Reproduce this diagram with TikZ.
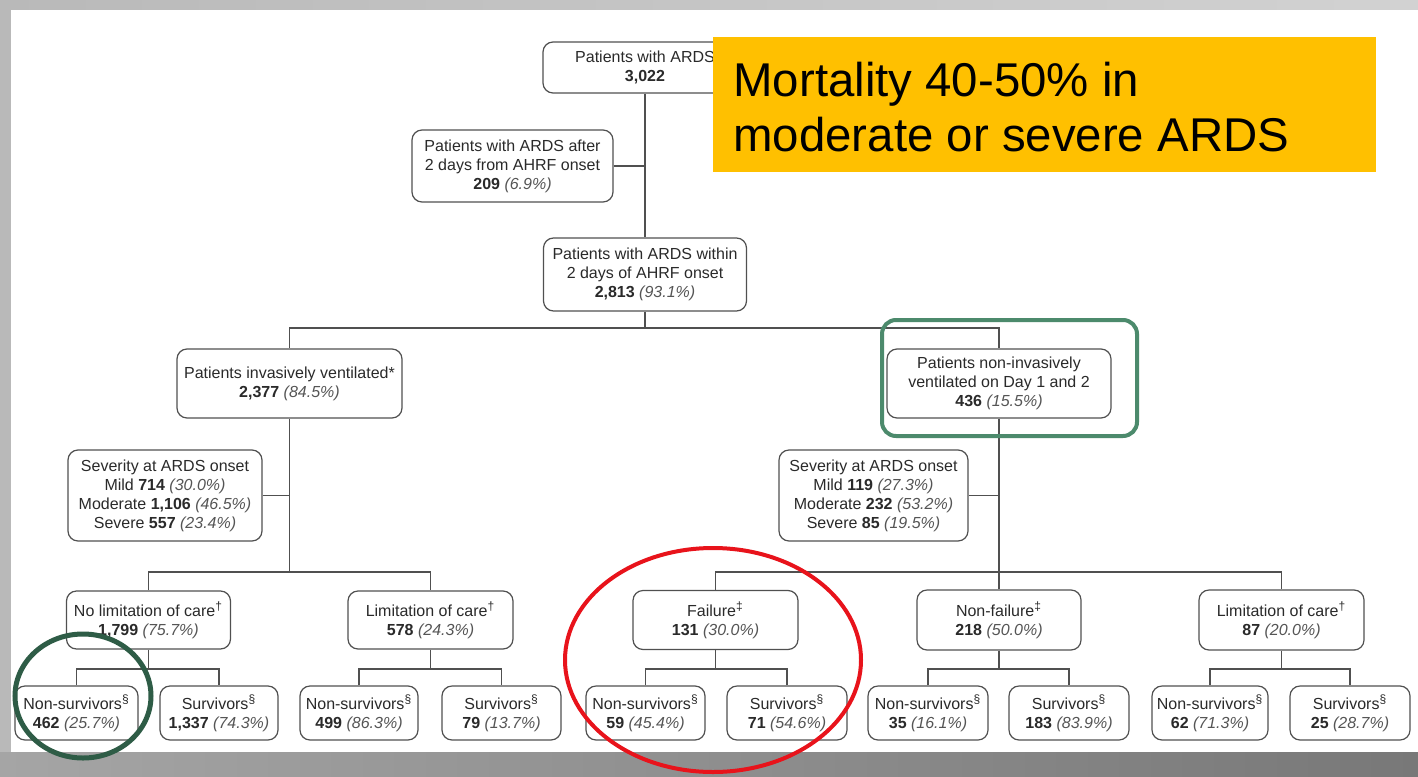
\documentclass[tikz,border=0pt]{standalone}
\usepackage{fontspec}
\setmainfont{Liberation Sans}
\definecolor{boxline}{HTML}{505050}
\definecolor{txt}{HTML}{2A2A2A}
\definecolor{pcg}{HTML}{555555}
\definecolor{hl}{HTML}{FFC000}
\definecolor{gframe}{HTML}{4C8A6C}
\definecolor{gcircle}{HTML}{2E5C46}
\definecolor{redc}{HTML}{E8131B}
\newcommand{\mypc}[1]{\textcolor{pcg}{\textit{(#1\%)}}}
\tikzset{
  box/.style={draw=boxline, line width=0.6pt, rounded corners=5pt, fill=white,
    align=center, inner sep=0pt, font=\fontsize{8}{9.5}\selectfont, text=txt},
  sz/.style 2 args={minimum width=#1*0.5pt, minimum height=#2*0.5pt},
  link/.style={draw=boxline, line width=0.6pt},
}
\begin{document}
\begin{tikzpicture}[x=0.5pt,y=-0.5pt]
\clip (0,0) rectangle (1418,776);
% background
\shade[left color={rgb,255:red,185;green,185;blue,185}, right color={rgb,255:red,210;green,210;blue,210}] (0,0) rectangle (1418,776);
\shade[left color={rgb,255:red,165;green,165;blue,165}, right color={rgb,255:red,120;green,120;blue,120}] (0,752) rectangle (1418,776);
\fill[white] (11,10) rectangle (1418,752);

% nodes
\node[box, sz={204}{51}] (top) at (645,67.5) {Patients with ARDS\\\textbf{3,022}};
\node[box, sz={201}{72}] (after) at (512.5,166) {Patients with ARDS after\\2 days from AHRF onset\\\textbf{209} \mypc{6.9}};
\node[box, sz={203}{73}] (within) at (645,274.5) {Patients with ARDS within\\2 days of AHRF onset\\\textbf{2,813} \mypc{93.1}};
\node[box, sz={225}{69}] (inv) at (289.5,383.5) {Patients invasively ventilated*\\\textbf{2,377} \mypc{84.5}};
\node[box, sz={224}{69}] (noninv) at (999,383.5) {Patients non-invasively\\ventilated on Day 1 and 2\\\textbf{436} \mypc{15.5}};
\node[box, sz={194}{91}] (sevL) at (165,495.5) {Severity at ARDS onset\\Mild \textbf{714} \mypc{30.0}\\Moderate \textbf{1,106} \mypc{46.5}\\Severe \textbf{557} \mypc{23.4}};
\node[box, sz={189}{91}] (sevR) at (873.5,495.5) {Severity at ARDS onset\\Mild \textbf{119} \mypc{27.3}\\Moderate \textbf{232} \mypc{53.2}\\Severe \textbf{85} \mypc{19.5}};
\node[box, sz={164}{58}] (nolim) at (148.5,620) {No limitation of care\textsuperscript{†}\\\textbf{1,799} \mypc{75.7}};
\node[box, sz={165}{58}] (limL) at (430.5,620) {Limitation of care\textsuperscript{†}\\\textbf{578} \mypc{24.3}};
\node[box, sz={165}{59}] (fail) at (715.5,620) {Failure\textsuperscript{‡}\\\textbf{131} \mypc{30.0}};
\node[box, sz={164}{60}] (nonfail) at (999,620) {Non-failure\textsuperscript{‡}\\\textbf{218} \mypc{50.0}};
\node[box, sz={165}{60}] (limR) at (1281.5,620) {Limitation of care\textsuperscript{†}\\\textbf{87} \mypc{20.0}};

\node[box, sz={123}{54}] (ns1) at (76.5,713) {Non-survivors\textsuperscript{§}\\\textbf{462} \mypc{25.7}};
\node[box, sz={118}{54}] (s1) at (219,713) {Survivors\textsuperscript{§}\\\textbf{1,337} \mypc{74.3}};
\node[box, sz={118}{54}] (ns2) at (359,713) {Non-survivors\textsuperscript{§}\\\textbf{499} \mypc{86.3}};
\node[box, sz={119}{54}] (s2) at (501.5,713) {Survivors\textsuperscript{§}\\\textbf{79} \mypc{13.7}};
\node[box, sz={119}{54}] (ns3) at (645.5,713) {Non-survivors\textsuperscript{§}\\\textbf{59} \mypc{45.4}};
\node[box, sz={120}{54}] (s3) at (787,713) {Survivors\textsuperscript{§}\\\textbf{71} \mypc{54.6}};
\node[box, sz={120}{54}] (ns4) at (928,713) {Non-survivors\textsuperscript{§}\\\textbf{35} \mypc{16.1}};
\node[box, sz={120}{54}] (s4) at (1069,713) {Survivors\textsuperscript{§}\\\textbf{183} \mypc{83.9}};
\node[box, sz={116}{54}] (ns5) at (1210,713) {Non-survivors\textsuperscript{§}\\\textbf{62} \mypc{71.3}};
\node[box, sz={120}{54}] (s5) at (1350,713) {Survivors\textsuperscript{§}\\\textbf{25} \mypc{28.7}};

% junctions
\coordinate (j0) at (645,328);
\coordinate (jL) at (289.5,572);
\coordinate (jR) at (999,572);
\coordinate (l1) at (148.5,669);
\coordinate (l2) at (430.5,669);
\coordinate (l3) at (715.5,669);
\coordinate (l4) at (999,669);
\coordinate (l5) at (1281.5,669);

% connectors
\draw[link] (top.south) -- (within.north);
\draw[link] (after.east) -- (after.east -| top.south);
\draw[link] (within.south) -- (j0);
\draw[link] (inv.north) |- (j0) -| (noninv.north);
\draw[link] (inv.south) -- (jL);
\draw[link] (sevL.east) -- (sevL.east -| inv.south);
\draw[link] (nolim.north) |- (jL) -| (limL.north);
\draw[link] (noninv.south) -- (jR);
\draw[link] (sevR.east) -- (sevR.east -| noninv.south);
\draw[link] (fail.north) |- (jR) -| (limR.north);
\draw[link] (nonfail.north) -- (jR);
\draw[link] (nolim.south) -- (l1);
\draw[link] (ns1.north) |- (l1) -| (s1.north);
\draw[link] (limL.south) -- (l2);
\draw[link] (ns2.north) |- (l2) -| (s2.north);
\draw[link] (fail.south) -- (l3);
\draw[link] (ns3.north) |- (l3) -| (s3.north);
\draw[link] (nonfail.south) -- (l4);
\draw[link] (ns4.north) |- (l4) -| (s4.north);
\draw[link] (limR.south) -- (l5);
\draw[link] (ns5.north) |- (l5) -| (s5.north);

% highlight box
\node[fill=hl, minimum width=331.5pt, minimum height=67.5pt, inner sep=0pt] (hlbox) at (1044.5,104.5) {};
\node[anchor=north west, inner sep=0pt, align=left, font=\fontsize{23.7}{27.5}\selectfont] (hltext) at (733,62) {Mortality 40-50\% in\\moderate or severe ARDS};

% annotation marks
\draw[gframe, line width=2pt, rounded corners=7pt] (882,320) rectangle (1137,436);
\draw[redc, line width=2pt] (713,660) ellipse [x radius=74pt, y radius=56pt];
\draw[gcircle, line width=2.5pt] (83,696) ellipse [x radius=34pt, y radius=31pt];
\end{tikzpicture}
\end{document}
